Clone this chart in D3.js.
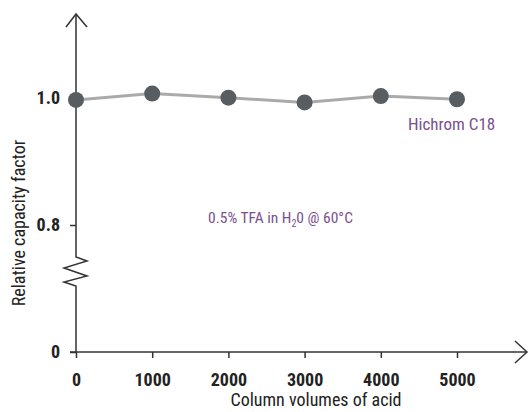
<!DOCTYPE html>
<html><head><meta charset="utf-8">
<script src="https://cdn.jsdelivr.net/npm/d3@7"></script>
<style>
html,body{margin:0;padding:0;background:#fff;}
svg text{font-family:"Liberation Sans Narrow","Roboto Condensed","Liberation Sans",sans-serif;}
</style></head>
<body>
<svg id="c" width="529" height="412"></svg>
<script>
const columnVolumes = [0, 1000, 2000, 3000, 4000, 5000];
const relCapacity = [0.997, 1.007, 1.0005, 0.993, 1.003, 0.998];
const xTicks = [0, 1000, 2000, 3000, 4000, 5000];
const yTicks = [0, 0.8, 1.0];
const yTickLabels = ["0", "0.8", "1.0"];

const svg = d3.select("#c");
const x = d3.scaleLinear().domain([0, 5000]).range([76, 457]);
const y = d3.scaleLinear().domain([0, 0.8, 1.0]).range([352, 225, 98]);
const axisColor = "#333";
const x0 = x(0), yBase = y(0);

// axes ticks
const xAxis = d3.axisBottom(x).tickValues(xTicks).tickSize(6).tickPadding(15).tickFormat(d3.format("d"));
const gx = svg.append("g").attr("transform", `translate(0,${yBase})`).call(xAxis);
gx.select(".domain").remove();
gx.selectAll("line").attr("stroke", axisColor).attr("stroke-width", 1.5);
gx.selectAll("text").attr("fill", "#222").style("font-size", "18px").style("font-weight", "bold");

const yAxis = d3.axisLeft(y).tickValues(yTicks).tickSize(6).tickPadding(10).tickFormat((d,i) => yTickLabels[i]);
const gy = svg.append("g").attr("transform", `translate(${x0},0)`).call(yAxis);
gy.select(".domain").remove();
gy.selectAll("line").attr("stroke", axisColor).attr("stroke-width", 1.5);
gy.selectAll("text").attr("fill", "#222").style("font-size", "18px").style("font-weight", "bold");

// y axis line with break and arrow
const brkTop = y(0.8) + 32, brkBot = y(0.8) + 61;
const yPath = d3.path();
yPath.moveTo(x0, yBase);
yPath.lineTo(x0, brkBot);
yPath.lineTo(x0 - 12, brkBot - 4);
yPath.lineTo(x0 + 11, brkBot - 10);
yPath.lineTo(x0 - 12, brkBot - 18);
yPath.lineTo(x0 + 11, brkTop + 4);
yPath.lineTo(x0, brkTop);
yPath.lineTo(x0, 14);
svg.append("path").attr("d", yPath.toString()).attr("fill", "none").attr("stroke", axisColor).attr("stroke-width", 1.5);
svg.append("path").attr("d", `M${x0-10},27L${x0},14L${x0+11},27`).attr("fill", "none").attr("stroke", axisColor).attr("stroke-width", 1.5);

// x axis line with arrow
svg.append("path").attr("d", `M70,${yBase}L527,${yBase}`).attr("stroke", axisColor).attr("stroke-width", 1.5);
svg.append("path").attr("d", `M515,${yBase-11}L527,${yBase}L515,${yBase+11}`).attr("fill", "none").attr("stroke", axisColor).attr("stroke-width", 1.5);

// data line & points
const data = columnVolumes.map((v, i) => ({v, r: relCapacity[i]}));
svg.append("path").datum(data)
  .attr("d", d3.line().x(d => x(d.v)).y(d => y(d.r)))
  .attr("fill", "none").attr("stroke", "#aaa").attr("stroke-width", 3);
svg.selectAll("circle.pt").data(data).enter().append("circle")
  .attr("cx", d => x(d.v)).attr("cy", d => y(d.r)).attr("r", 8).attr("fill", "#575d60");

// titles
svg.append("text").attr("x", 316).attr("y", 406).attr("text-anchor", "middle")
  .attr("fill", "#222").style("font-size", "18px").text("Column volumes of acid");
svg.append("text").attr("transform", "translate(25,223) rotate(-90)").attr("text-anchor", "middle")
  .attr("fill", "#222").style("font-size", "18px").text("Relative capacity factor");

// annotations
const purple = "#7b4f8c";
svg.append("text").attr("x", 408).attr("y", 130).attr("fill", purple).style("font-size", "17px").text("Hichrom C18");
const t = svg.append("text").attr("x", 208).attr("y", 223).attr("fill", purple).style("font-size", "15.5px");
t.append("tspan").text("0.5% TFA in H");
t.append("tspan").attr("dy", 4).style("font-size", "10px").text("2");
t.append("tspan").attr("dy", -4).text("0 @ 60°C");
</script>
</body></html>
